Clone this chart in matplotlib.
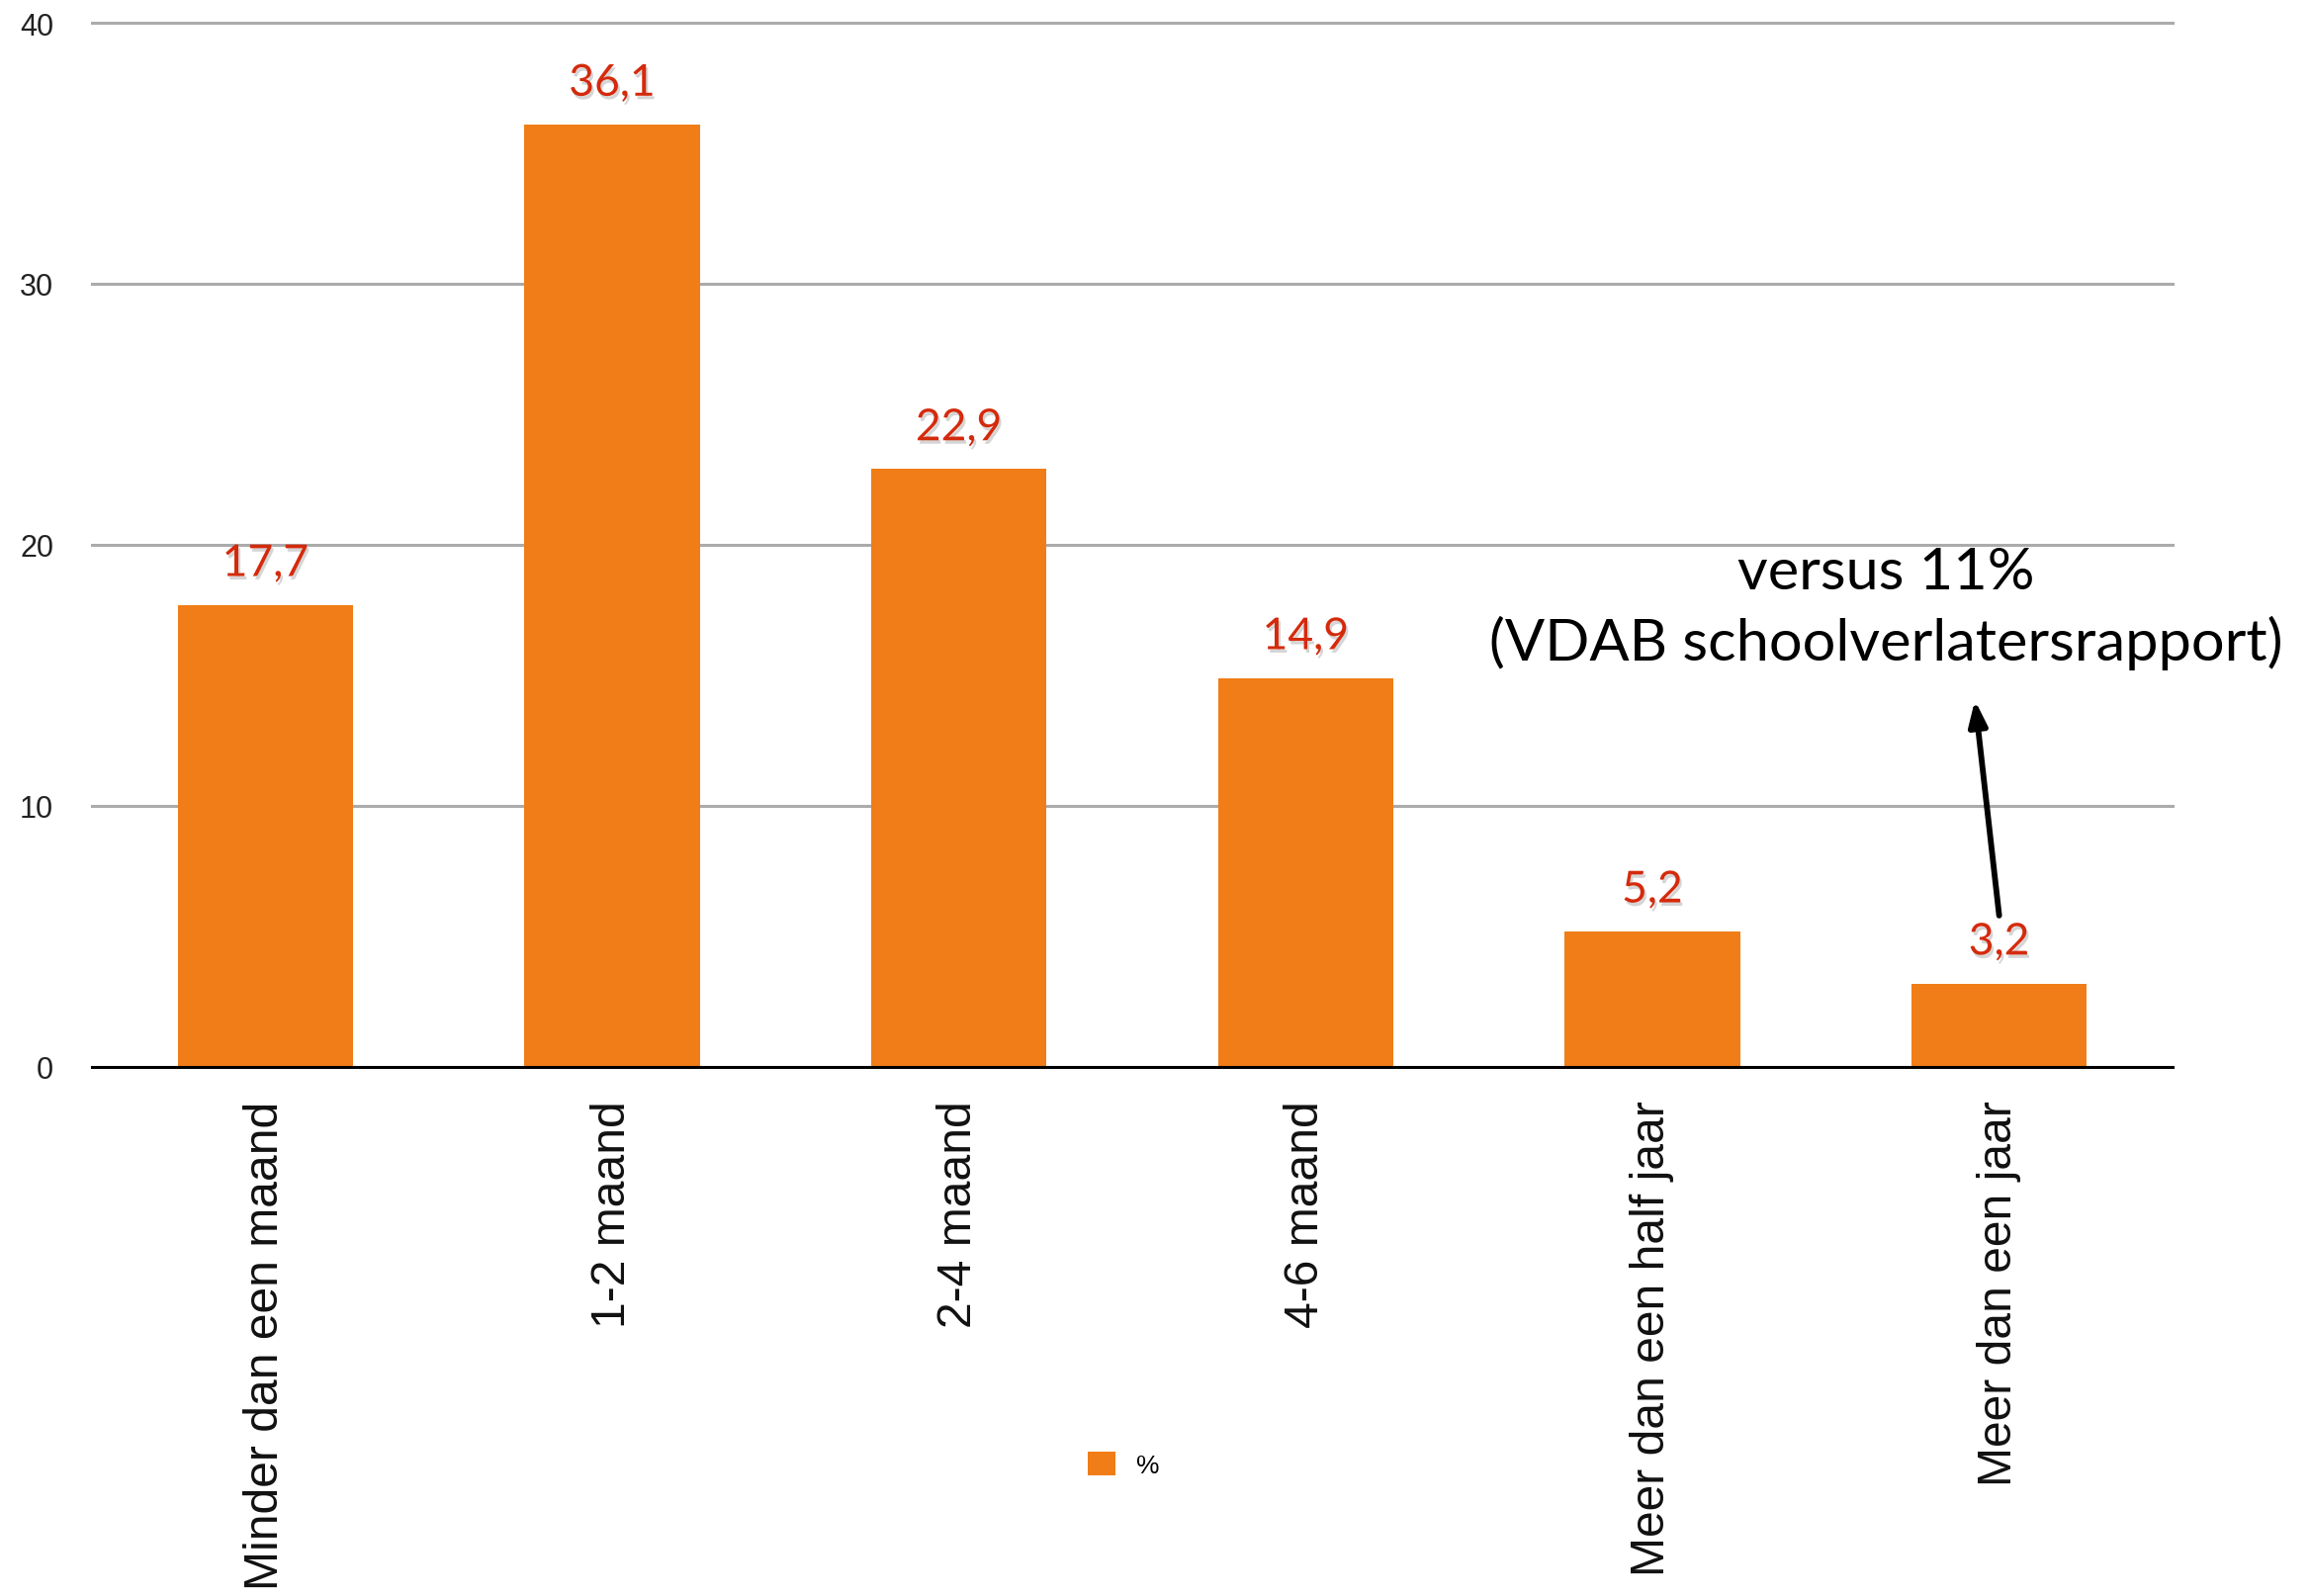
import matplotlib
matplotlib.use("Agg")
import matplotlib.pyplot as plt
import matplotlib.patheffects as pe
from matplotlib.patches import Patch
import numpy as np

categories = ["Minder dan een maand", "1-2 maand", "2-4 maand", "4-6 maand",
              "Meer dan een half jaar", "Meer dan een jaar"]
values = [17.7, 36.1, 22.9, 14.9, 5.2, 3.2]
value_labels = ["17,7", "36,1", "22,9", "14,9", "5,2", "3,2"]
yticks = [0, 10, 20, 30, 40]
series_name = "%"
note_line1 = "versus 11%"
note_line2 = "(VDAB schoolverlatersrapport)"

W, H = 2336, 1615
fig = plt.figure(figsize=(W / 100, H / 100), dpi=100)
ax = fig.add_axes([93 / W, 1 - 1080 / H, (2197 - 93) / W, (1080 - 24) / H])

bar_color = "#F07D17"
x = np.arange(len(categories))
ax.bar(x, values, width=0.505, color=bar_color, zorder=3)

ax.set_xlim(-0.5, len(categories) - 0.5)
ax.set_ylim(0, 40)
ax.set_yticks(yticks)
ax.set_yticklabels([str(t) for t in yticks], fontsize=22, family="Liberation Sans", color="#222222")
ax.set_xticks(x)
ax.set_xticklabels(categories, rotation=90, fontsize=34.6, family="Liberation Sans", color="#111111")
ax.tick_params(axis="y", length=0, pad=28)
ax.tick_params(axis="x", length=0, pad=24)

for s in ["top", "right", "left"]:
    ax.spines[s].set_visible(False)
ax.spines["bottom"].set_linewidth(2.2)
ax.spines["bottom"].set_color("black")
ax.spines["bottom"].set_zorder(4)

for t in yticks[1:]:
    ax.axhline(t, color="#ababab", linewidth=2.2, zorder=1, clip_on=False)

shadow = [pe.SimplePatchShadow(offset=(1.5, -2.5), shadow_rgbFace="#888888", alpha=0.35), pe.Normal()]
for xi, v, lab in zip(x, values, value_labels):
    ax.annotate(lab, (xi, v), xytext=(0, 21), textcoords="offset points",
                ha="center", va="baseline", fontsize=32, family="Lato",
                color="#D42A0C", zorder=5, path_effects=shadow)

# annotation arrow and note
ax.annotate("", xy=(4.93, 14.05), xytext=(5.0, 5.8),
            arrowprops=dict(arrowstyle="-|>,head_length=1.5,head_width=0.55",
                            color="black", lw=4.2, shrinkA=0, shrinkB=0), zorder=6)
ax.text(4.675, 18.35, note_line1, ha="center", va="baseline", fontsize=42.8,
        family="Lato", color="black", zorder=6)
ax.text(4.675, 15.6, note_line2, ha="center", va="baseline", fontsize=42.8,
        family="Lato", color="black", zorder=6)

handle = Patch(facecolor=bar_color, edgecolor="none")
fig.legend([handle], [series_name], loc="center left",
           bbox_to_anchor=(1100 / W, 1 - 1482 / H), frameon=False,
           handlelength=1.05, handleheight=1.05,
           handletextpad=0.8, borderpad=0, borderaxespad=0,
           prop={"family": "Liberation Sans", "size": 19})

fig.savefig("out.png", dpi=100, facecolor="white")
